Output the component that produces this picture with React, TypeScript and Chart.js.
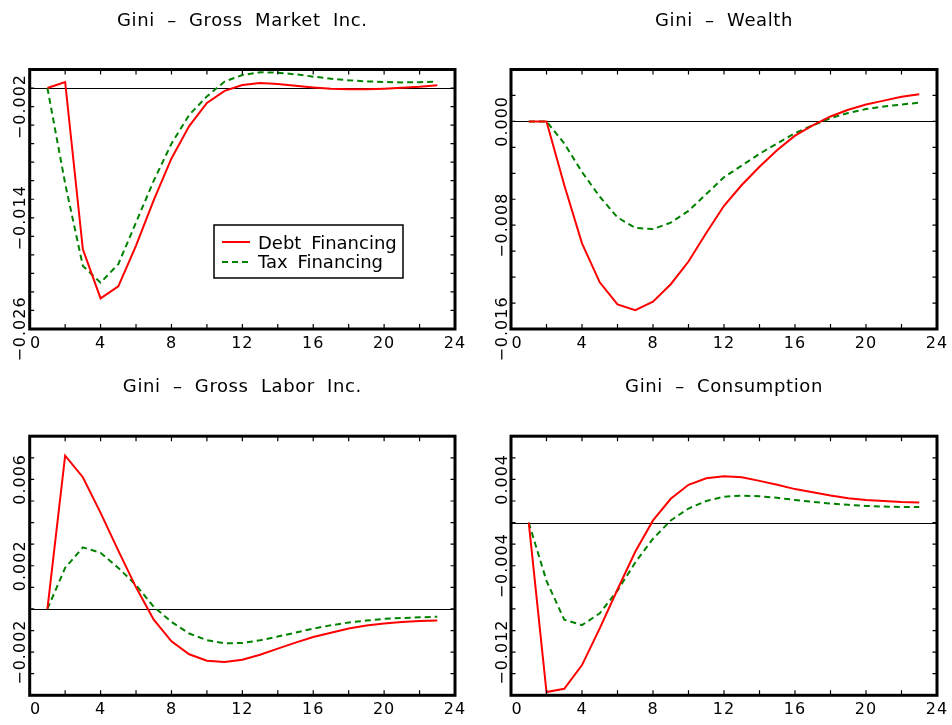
import React, { useEffect, useRef } from "react";
import { Chart, registerables } from "chart.js";

Chart.register(...registerables);

// ---------------- data ----------------
const periods = [1, 2, 3, 4, 5, 6, 7, 8, 9, 10, 11, 12, 13, 14, 15, 16, 17, 18, 19, 20, 21, 22, 23];

const marketDebt = [0, 0.00065, -0.0174, -0.0227, -0.0214, -0.017, -0.0121, -0.0076, -0.0041, -0.0016, -0.0003, 0.00033, 0.00054, 0.00043, 0.00025, 0.00007, -0.00007, -0.00014, -0.00014, -0.00007, 0.00004, 0.00014, 0.00029];
const marketTax = [0, -0.0103, -0.0192, -0.021, -0.019, -0.0145, -0.01, -0.006, -0.0029, -0.0009, 0.0007, 0.0014, 0.0017, 0.00166, 0.00148, 0.00123, 0.00101, 0.00083, 0.00072, 0.00065, 0.00061, 0.00063, 0.00069];

const wealthDebt = [0, 0, -0.0049, -0.0094, -0.0124, -0.0141, -0.01455, -0.0139, -0.01255, -0.0108, -0.0086, -0.0065, -0.0049, -0.0035, -0.0022, -0.0011, -0.0003, 0.00038, 0.0009, 0.0013, 0.0016, 0.0019, 0.0021];
const wealthTax = [0, 0, -0.0017, -0.0039, -0.0058, -0.0074, -0.0082, -0.0083, -0.0078, -0.0069, -0.0056, -0.0043, -0.0034, -0.0025, -0.0017, -0.0009, -0.0003, 0.00025, 0.00065, 0.00095, 0.00115, 0.0013, 0.00144];

const laborDebt = [0, 0.0071, 0.0061, 0.00445, 0.0027, 0.001, -0.0005, -0.0015, -0.0021, -0.0024, -0.00246, -0.00235, -0.00212, -0.00184, -0.00156, -0.0013, -0.0011, -0.00091, -0.00077, -0.00068, -0.0006, -0.00056, -0.00053];
const laborTax = [0, 0.0019, 0.00285, 0.0026, 0.0019, 0.0011, 0.0001, -0.0006, -0.00114, -0.00145, -0.00159, -0.00158, -0.00145, -0.00128, -0.0011, -0.00091, -0.00076, -0.00063, -0.00054, -0.00046, -0.00042, -0.00039, -0.00036];

const consDebt = [0, -0.0157, -0.0154, -0.0132, -0.0098, -0.0062, -0.0027, 0.0002, 0.0022, 0.0035, 0.0041, 0.0043, 0.0042, 0.00386, 0.0035, 0.0031, 0.0028, 0.0025, 0.00225, 0.0021, 0.002, 0.0019, 0.00185];
const consTax = [0, -0.0054, -0.009, -0.0095, -0.0084, -0.0063, -0.0037, -0.0015, 0.0002, 0.0013, 0.002, 0.0024, 0.0025, 0.00244, 0.00229, 0.0021, 0.00192, 0.00176, 0.00164, 0.00154, 0.00148, 0.00145, 0.00145];

const xTickValues = [0, 4, 8, 12, 16, 20, 24];
const marketYTicks = [-0.026, -0.014, -0.002];
const wealthYTicks = [-0.016, -0.008, 0.0];
const laborYTicks = [-0.002, 0.002, 0.006];
const consYTicks = [-0.012, -0.004, 0.004];

const seriesNames = ["Debt Financing", "Tax Financing"];
const titles = ["Gini \u2013 Gross Market Inc.", "Gini \u2013 Wealth", "Gini \u2013 Gross Labor Inc.", "Gini \u2013 Consumption"];

// ---------------- styles / layout ----------------
const RED = "#ff0000";
const GREEN = "#008200";
const FONT = '"DejaVu Sans", sans-serif';

type Panel = {
  title: string;
  debt: number[];
  tax: number[];
  yMin: number;
  yMax: number;
  yTicks: number[];
  yStep: number;
  left: number;
  top: number;
  w: number;
  h: number;
  pad: { left: number; top: number; right: number; bottom: number };
  legend?: { x: number; y: number; w: number; h: number };
};

const panels: Panel[] = [
  {
    title: titles[0], debt: marketDebt, tax: marketTax, yMin: -0.026, yMax: 0.002, yTicks: marketYTicks, yStep: 0.002,
    left: 0, top: 0, w: 476, h: 362, pad: { left: 29.7, top: 69.5, right: 21, bottom: 33 },
    legend: { x: 214, y: 225, w: 189, h: 53 },
  },
  {
    title: titles[1], debt: wealthDebt, tax: wealthTax, yMin: -0.016, yMax: 0.004, yTicks: wealthYTicks, yStep: 0.002,
    left: 476, top: 0, w: 476, h: 362, pad: { left: 35, top: 69.5, right: 15, bottom: 33 },
  },
  {
    title: titles[2], debt: laborDebt, tax: laborTax, yMin: -0.004, yMax: 0.008, yTicks: laborYTicks, yStep: 0.001,
    left: 0, top: 362, w: 476, h: 363, pad: { left: 29.7, top: 74.2, right: 21, bottom: 29.7 },
  },
  {
    title: titles[3], debt: consDebt, tax: consTax, yMin: -0.016, yMax: 0.008, yTicks: consYTicks, yStep: 0.002,
    left: 476, top: 362, w: 476, h: 363, pad: { left: 35, top: 74.2, right: 15, bottom: 29.7 },
  },
];

function fmt(v: number): string {
  const s = Math.abs(v).toFixed(3);
  return v < -1e-12 ? "\u2212" + s : s;
}

function decorPlugin(p: Panel) {
  return {
    id: "decor",
    beforeDatasetsDraw(chart: any) {
      const { ctx, chartArea: a, scales } = chart;
      const y0 = Math.round(scales.y.getPixelForValue(0)) + 0.5;
      ctx.save();
      ctx.strokeStyle = "#000";
      ctx.lineWidth = 1;
      ctx.beginPath();
      ctx.moveTo(a.left, y0);
      ctx.lineTo(a.right, y0);
      ctx.stroke();
      ctx.restore();
    },
    afterDatasetsDraw(chart: any) {
      const { ctx, chartArea: a, scales } = chart;
      const xs = scales.x;
      const ys = scales.y;
      ctx.save();
      // ticks (inward)
      ctx.strokeStyle = "#000";
      ctx.lineWidth = 1.2;
      ctx.beginPath();
      for (let i = 1; i < 12; i++) {
        const x = xs.getPixelForValue(i * 2);
        ctx.moveTo(x, a.bottom);
        ctx.lineTo(x, a.bottom - 5);
        ctx.moveTo(x, a.top);
        ctx.lineTo(x, a.top + 5);
      }
      const n = Math.round((p.yMax - p.yMin) / p.yStep);
      for (let i = 1; i < n; i++) {
        const y = ys.getPixelForValue(p.yMin + i * p.yStep);
        ctx.moveTo(a.left, y);
        ctx.lineTo(a.left + 4.5, y);
        ctx.moveTo(a.right, y);
        ctx.lineTo(a.right - 4.5, y);
      }
      ctx.stroke();
      // frame
      ctx.lineWidth = 3;
      ctx.strokeRect(a.left, a.top, a.right - a.left, a.bottom - a.top);

      ctx.fillStyle = "#000";
      // x labels
      ctx.font = `16px ${FONT}`;
      (ctx as any).letterSpacing = "1px";
      ctx.textAlign = "center";
      ctx.textBaseline = "alphabetic";
      for (const v of xTickValues) {
        let x = xs.getPixelForValue(v);
        if (v === 0) x += 6;
        ctx.fillText(String(v), x, a.bottom + 19);
      }
      // y labels (rotated)
      for (const v of p.yTicks) {
        const y = ys.getPixelForValue(v);
        ctx.save();
        ctx.translate(a.left - 4.5, y);
        ctx.rotate(-Math.PI / 2);
        ctx.fillText(fmt(v), 0, 0);
        ctx.restore();
      }
      // title
      ctx.font = `18px ${FONT}`;
      (ctx as any).letterSpacing = "0.6px";
      (ctx as any).wordSpacing = "6px";
      ctx.fillText(p.title, (a.left + a.right) / 2, a.top - 44);

      // legend
      if (p.legend) {
        const L = p.legend;
        ctx.fillStyle = "#fff";
        ctx.fillRect(L.x, L.y, L.w, L.h);
        ctx.strokeStyle = "#000";
        ctx.lineWidth = 1.5;
        ctx.strokeRect(L.x, L.y, L.w, L.h);
        ctx.lineWidth = 2;
        ctx.strokeStyle = RED;
        ctx.beginPath();
        ctx.moveTo(L.x + 8, L.y + 17);
        ctx.lineTo(L.x + 36, L.y + 17);
        ctx.stroke();
        ctx.strokeStyle = GREEN;
        ctx.setLineDash([6, 4]);
        ctx.beginPath();
        ctx.moveTo(L.x + 8, L.y + 37);
        ctx.lineTo(L.x + 38, L.y + 37);
        ctx.stroke();
        ctx.setLineDash([]);
        ctx.fillStyle = "#000";
        ctx.textAlign = "left";
        (ctx as any).letterSpacing = "0px";
        (ctx as any).wordSpacing = "4px";
        ctx.fillText(seriesNames[0], L.x + 44, L.y + 24);
        ctx.fillText(seriesNames[1], L.x + 44, L.y + 43);
      }
      ctx.restore();
    },
  };
}

function PanelChart({ p }: { p: Panel }) {
  const ref = useRef<HTMLCanvasElement | null>(null);
  useEffect(() => {
    if (!ref.current) return;
    const chart = new Chart(ref.current, {
      type: "line",
      data: {
        datasets: [
          {
            label: seriesNames[0],
            data: periods.map((t, i) => ({ x: t, y: p.debt[i] })),
            borderColor: RED,
            borderWidth: 2,
            pointRadius: 0,
            tension: 0,
            fill: false,
          },
          {
            label: seriesNames[1],
            data: periods.map((t, i) => ({ x: t, y: p.tax[i] })),
            borderColor: GREEN,
            borderWidth: 2,
            borderDash: [6, 4],
            pointRadius: 0,
            tension: 0,
            fill: false,
          },
        ],
      },
      options: {
        responsive: false,
        animation: false,
        devicePixelRatio: 1,
        layout: { padding: p.pad },
        plugins: { legend: { display: false }, title: { display: false }, tooltip: { enabled: false } },
        scales: {
          x: { type: "linear", min: 0, max: 24, display: false },
          y: { type: "linear", min: p.yMin, max: p.yMax, display: false },
        },
      },
      plugins: [decorPlugin(p)],
    });
    return () => chart.destroy();
  }, [p]);
  return (
    <canvas
      ref={ref}
      width={p.w}
      height={p.h}
      style={{ position: "absolute", left: p.left, top: p.top, width: p.w, height: p.h }}
    />
  );
}

export default function App() {
  return (
    <div style={{ position: "absolute", left: 0, top: 0, width: 952, height: 725, background: "#fff" }}>
      {panels.map((p, i) => (
        <PanelChart key={i} p={p} />
      ))}
    </div>
  );
}
